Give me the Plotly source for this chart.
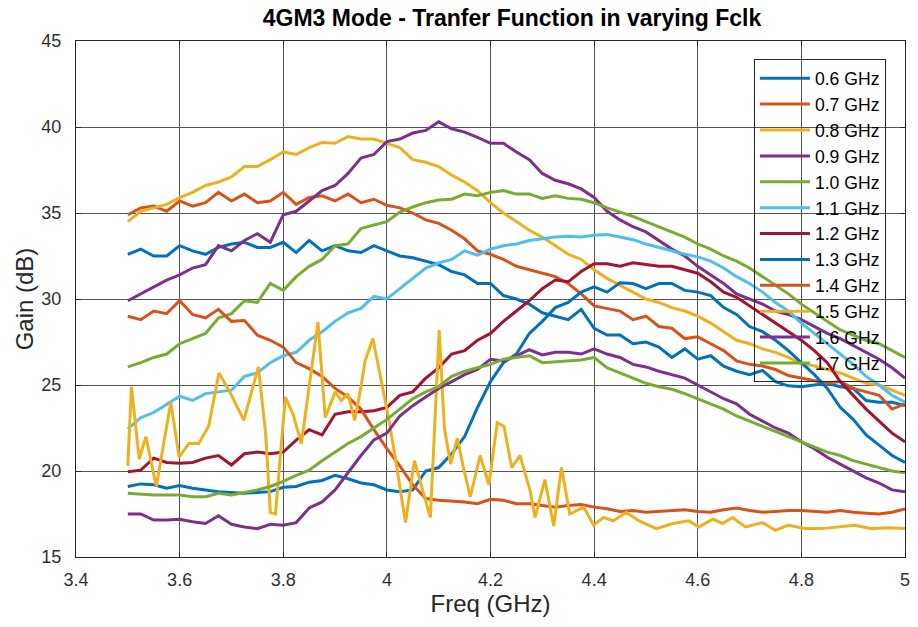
import plotly.graph_objects as go

freq = [round(3.5 + 0.025 * i, 3) for i in range(61)]

g06 = [32.6, 32.9, 32.5, 32.5, 33.1, 32.8, 32.6, 33.0, 33.2, 33.3, 33.0, 33.0, 33.3, 32.7, 33.4, 32.8,
       33.1, 32.8, 32.7, 33.1, 32.8, 32.5, 32.4, 32.2, 32.0, 31.6, 31.4, 30.9, 30.9, 30.2, 30.0, 29.7,
       29.2, 29.0, 28.8, 29.4, 28.3, 27.9, 27.9, 27.4, 27.5, 27.2, 26.6, 27.1, 26.5, 26.7, 26.1, 25.8,
       25.6, 25.85, 25.2, 24.95, 24.9, 25.0, 25.1, 24.9, 24.8, 24.1, 24.0, 24.0, 23.8]
g07 = [34.9, 35.3, 35.4, 35.1, 35.7, 35.4, 35.6, 36.2, 35.7, 36.1, 35.6, 35.7, 36.2, 35.5, 35.9, 36.0,
       35.7, 36.1, 35.6, 35.8, 35.45, 35.3, 35.0, 34.6, 34.4, 34.0, 33.5, 32.8, 32.6, 32.3, 31.9, 31.7,
       31.5, 31.3, 30.9, 30.3, 29.6, 29.45, 29.3, 28.8, 29.0, 28.4, 28.3, 27.7, 27.8, 27.4, 27.0, 26.4,
       26.2, 26.1, 25.9, 25.55, 25.4, 25.25, 25.1, 25.2, 24.8, 24.6, 24.4, 23.6, 23.9]
g08 = [34.5, 35.1, 35.3, 35.5, 35.9, 36.2, 36.6, 36.8, 37.1, 37.7, 37.7, 38.1, 38.55, 38.4, 38.8, 39.1,
       39.05, 39.45, 39.3, 39.3, 39.05, 38.8, 38.1, 37.95, 37.7, 37.2, 36.8, 36.3, 35.6, 35.0, 34.5, 34.0,
       33.6, 33.1, 32.6, 32.3, 31.7, 31.2, 30.8, 30.4, 30.0, 29.8, 29.5, 29.3, 29.0, 28.6, 28.1, 27.6,
       27.4, 27.1, 26.9, 26.6, 26.25, 26.1, 25.9, 25.7, 25.4, 25.1, 25.0, 24.7, 24.4]
g09 = [29.9, 30.3, 30.7, 31.1, 31.4, 31.8, 32.0, 33.1, 32.8, 33.4, 33.8, 33.3, 34.9, 35.1, 35.7, 36.3,
       36.6, 37.3, 38.2, 38.4, 39.15, 39.3, 39.65, 39.8, 40.3, 39.9, 39.7, 39.4, 39.05, 39.05, 38.55, 38.1,
       37.3, 36.9, 36.7, 36.4, 35.9, 35.1, 34.6, 34.2, 33.9, 33.4, 32.9, 32.5, 31.9, 31.4, 30.9, 30.3,
       30.0, 29.7, 29.3, 29.1, 28.8, 28.4, 28.0, 27.7, 27.3, 26.9, 26.5, 26.0, 25.4]
g10 = [26.05, 26.3, 26.6, 26.8, 27.4, 27.7, 28.0, 28.9, 29.15, 29.9, 29.8, 30.9, 30.5, 31.3, 31.9, 32.3,
       33.1, 33.2, 34.1, 34.3, 34.5, 35.05, 35.35, 35.6, 35.75, 35.8, 36.1, 36.0, 36.2, 36.3, 36.1, 36.1,
       35.85, 36.0, 35.85, 35.8, 35.6, 35.3, 35.05, 34.8, 34.5, 34.2, 33.9, 33.6, 33.2, 32.9, 32.5, 32.2,
       31.8, 31.3, 30.8, 30.3, 29.7, 29.2, 28.7, 28.2, 27.9, 27.6, 27.4, 27.0, 26.6]
g11 = [22.45, 23.1, 23.4, 23.9, 24.35, 24.1, 24.5, 24.6, 24.7, 25.5, 25.7, 26.3, 26.7, 26.9, 27.6, 28.1,
       28.7, 29.2, 29.45, 30.15, 30.0, 30.6, 31.2, 31.8, 32.1, 32.3, 32.8, 32.55, 32.9, 33.1, 33.2, 33.4,
       33.5, 33.6, 33.65, 33.6, 33.7, 33.75, 33.6, 33.45, 33.2, 33.0, 32.8, 32.6, 32.45, 32.2, 31.8, 31.3,
       30.9, 30.4, 29.8, 29.3, 28.6, 28.0, 27.4, 26.8, 26.2, 25.5, 25.0, 24.4, 24.0]
g12 = [19.95, 20.05, 20.75, 20.5, 20.45, 20.5, 20.75, 20.9, 20.35, 21.0, 21.1, 21.0, 21.1, 21.8, 22.4, 22.1,
       23.3, 23.45, 23.45, 23.5, 23.7, 24.4, 24.6, 25.4, 26.0, 26.8, 27.0, 27.6, 28.0, 28.7, 29.3, 29.9,
       30.6, 31.1, 31.0, 31.6, 32.05, 32.05, 31.9, 32.1, 32.0, 31.9, 31.9, 31.7, 31.5, 31.0, 30.4, 30.1,
       29.6, 29.1, 28.6, 28.1, 27.6, 27.0, 26.3, 25.2, 24.4, 23.6, 22.9, 22.2, 21.7]
g13 = [19.1, 19.25, 19.2, 19.0, 19.15, 19.0, 18.9, 18.8, 18.75, 18.7, 18.75, 18.8, 19.05, 19.1, 19.35, 19.45,
       19.75, 19.55, 19.3, 19.2, 18.9, 18.8, 18.9, 20.0, 20.2, 21.0, 22.0, 23.7, 25.2, 26.3, 26.8, 28.0,
       28.7, 29.5, 29.8, 30.4, 30.7, 30.4, 30.95, 30.9, 30.6, 30.9, 30.9, 30.5, 30.4, 30.2, 29.5, 29.1,
       28.4, 28.1, 27.6, 27.0, 26.3, 25.6, 24.8, 23.7, 23.0, 22.1, 21.5, 20.9, 20.5]
g14 = [29.0, 28.8, 29.3, 29.15, 29.9, 29.1, 28.9, 29.4, 28.7, 28.75, 27.9, 27.6, 27.2, 26.3, 25.95, 25.5,
       24.8, 24.3, 23.6, 22.4, 21.3, 20.3, 19.2, 18.4, 18.3, 18.25, 18.2, 18.1, 18.35, 18.3, 18.1, 18.1,
       18.0, 17.9, 18.0, 18.05, 17.9, 17.8, 17.65, 17.7, 17.6, 17.65, 17.7, 17.75, 17.65, 17.6, 17.75, 17.85,
       17.7, 17.6, 17.65, 17.7, 17.7, 17.65, 17.6, 17.7, 17.6, 17.55, 17.5, 17.6, 17.8]
freq15 = [3.500, 3.507, 3.522, 3.535, 3.555, 3.583, 3.599, 3.618, 3.637, 3.656, 3.676, 3.695, 3.724, 3.752,
          3.766, 3.775, 3.785, 3.804, 3.819, 3.835, 3.867, 3.881, 3.900, 3.912, 3.925, 3.938, 3.950, 3.958,
          3.973, 3.988, 4.002, 4.015, 4.036, 4.053, 4.073, 4.084, 4.101, 4.111, 4.123, 4.136, 4.147, 4.161,
          4.180, 4.197, 4.213, 4.226, 4.241, 4.257, 4.276, 4.286, 4.305, 4.322, 4.337, 4.353, 4.380, 4.399,
          4.418, 4.437, 4.462, 4.487, 4.520, 4.552, 4.583, 4.602, 4.629, 4.648, 4.667, 4.692, 4.725, 4.750,
          4.775, 4.807, 4.840, 4.871, 4.903, 4.936, 4.967, 5.000]
g15 = [20.3, 24.9, 20.7, 22.0, 19.1, 24.0, 20.8, 21.6, 21.6, 22.6, 25.7, 24.7, 22.95, 26.05,
       22.2, 17.6, 17.5, 24.3, 23.3, 21.6, 28.65, 23.1, 24.6, 24.1, 24.5, 22.95, 24.9, 26.4,
       27.7, 25.5, 23.3, 21.0, 17.0, 20.6, 18.5, 17.3, 28.2, 22.5, 20.4, 21.9, 20.3, 18.5,
       20.9, 19.2, 22.8, 22.6, 20.2, 20.9, 18.9, 17.3, 19.5, 16.8, 20.2, 17.5, 17.9, 16.85,
       17.3, 17.1, 17.6, 17.1, 16.65, 16.95, 17.1, 16.75, 17.2, 16.95, 17.3, 16.75, 17.0, 16.55,
       16.85, 16.65, 16.65, 16.75, 16.85, 16.65, 16.7, 16.65]
g16 = [17.5, 17.5, 17.15, 17.15, 17.2, 17.05, 16.95, 17.4, 16.9, 16.75, 16.65, 16.9, 16.85, 17.0, 17.85, 18.2,
       18.9, 19.9, 20.9, 21.8, 22.2, 23.2, 23.8, 24.3, 24.8, 25.2, 25.6, 25.9, 26.5, 26.4, 26.7, 27.05,
       26.75, 26.9, 26.9, 26.8, 27.1, 26.8, 26.6, 26.2, 26.05, 25.8, 25.6, 25.4, 25.0, 24.6, 24.2, 23.9,
       23.3, 22.9, 22.5, 22.2, 21.7, 21.3, 20.8, 20.4, 20.0, 19.6, 19.3, 18.9, 18.8]
g17 = [18.7, 18.65, 18.6, 18.6, 18.6, 18.5, 18.5, 18.7, 18.6, 18.75, 18.9, 19.1, 19.4, 19.75, 20.05, 20.6,
       21.1, 21.6, 22.0, 22.5, 23.0, 23.6, 24.2, 24.6, 24.9, 25.5, 25.8, 26.0, 26.2, 26.5, 26.6, 26.7,
       26.3, 26.35, 26.4, 26.45, 26.6, 26.0, 25.7, 25.4, 25.1, 24.9, 24.75, 24.5, 24.2, 23.9, 23.6, 23.2,
       22.9, 22.6, 22.3, 22.0, 21.7, 21.4, 21.1, 20.9, 20.6, 20.4, 20.2, 20.0, 19.9]

names = ["0.6 GHz", "0.7 GHz", "0.8 GHz", "0.9 GHz", "1.0 GHz", "1.1 GHz",
         "1.2 GHz", "1.3 GHz", "1.4 GHz", "1.5 GHz", "1.6 GHz", "1.7 GHz"]
xs = [freq] * 9 + [freq15] + [freq] * 2
ys = [g06, g07, g08, g09, g10, g11, g12, g13, g14, g15, g16, g17]
palette = ["#0072BD", "#D95319", "#EDB120", "#7E2F8E", "#77AC30", "#4DBEEE", "#A2142F"]

FONT = "Liberation Sans, Arial, sans-serif"

fig = go.Figure()
for i, (n, x, y) in enumerate(zip(names, xs, ys)):
    fig.add_trace(go.Scatter(x=x, y=y, mode="lines", name=n,
                             line=dict(color=palette[i % 7], width=3)))

axis_common = dict(showline=True, linecolor="#262626", linewidth=1, mirror="ticks",
                   ticks="inside", ticklen=5, tickcolor="#262626",
                   showgrid=True, gridcolor="#555555", gridwidth=1, zeroline=False,
                   tickfont=dict(family=FONT, size=18, color="#303030"))

fig.update_layout(
    width=918, height=627,
    margin=dict(l=76, r=8, t=41, b=70),
    paper_bgcolor="white", plot_bgcolor="white",
    title=dict(text="<b>4GM3 Mode - Tranfer Function in varying Fclk</b>",
               x=512 / 918, xref="container", xanchor="center",
               y=1 - 18 / 627, yref="container", yanchor="middle",
               font=dict(family=FONT, size=23, color="#000000")),
    xaxis=dict(range=[3.4, 5], dtick=0.2, tick0=3.4, ticklabelstandoff=6,
               title=dict(text="Freq (GHz)", font=dict(family=FONT, size=24, color="#262626"), standoff=6),
               **axis_common),
    yaxis=dict(range=[15, 45], dtick=5, ticklabelstandoff=10,
               title=dict(text="Gain (dB)", font=dict(family=FONT, size=24, color="#262626"), standoff=0),
               **axis_common),
    legend=dict(x=(758 - 76) / 834, y=(556.7 - 59) / 516, yanchor="top", xanchor="left",
                bgcolor="rgba(0,0,0,0)", bordercolor="#262626", borderwidth=1,
                font=dict(family=FONT, size=17.6, color="#000000"),
                itemwidth=50),
    showlegend=True,
)
fig.write_html("out.html")
